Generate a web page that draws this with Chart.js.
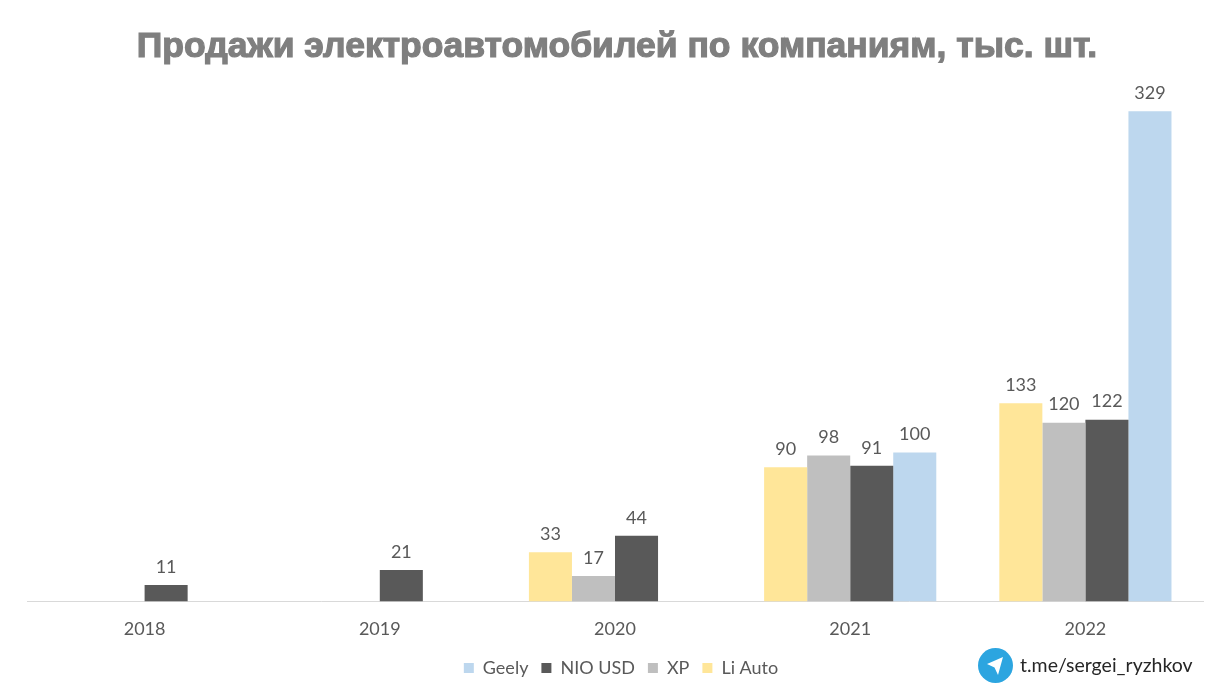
<!DOCTYPE html>
<html>
<head>
<meta charset="utf-8">
<title>Продажи электроавтомобилей</title>
<script src="https://cdn.jsdelivr.net/npm/chart.js@4"></script>
<style>
  html, body { margin: 0; padding: 0; background: #fff; }
  #wrap { position: relative; width: 1225px; height: 687px; overflow: hidden; }
  #chart { position: absolute; left: 0; top: 0; }
  #tg { position: absolute; left: 978px; top: 648px; display: flex; align-items: center; }
  #tg span { font: 19.5px Lato, sans-serif; color: #262626; margin-left: 7px; position: relative; top: -1px; }
</style>
</head>
<body>
<div id="wrap">
  <canvas id="chart" width="1225" height="687"></canvas>
  <div id="tg">
    <svg width="35" height="35" viewBox="0 0 35 35">
      <circle cx="17.5" cy="17.5" r="17.5" fill="#2ca5e0"/>
      <path d="M9 16 L25 9 L20 27 L16.5 19.5 Z" fill="#fff"/>
    </svg>
    <span>t.me/sergei_ryzhkov</span>
  </div>
</div>
<script>
const years = ['2018', '2019', '2020', '2021', '2022'];
const liAuto = [null, null, 33, 90, 133];
const xp = [null, null, 17, 98, 120];
const nio = [11, 21, 44, 91, 122];
const geely = [null, null, null, 100, 329];
const titleText = 'Продажи электроавтомобилей по компаниям, тыс. шт.';
const titleFont = '"Liberation Sans", Arial, sans-serif';
const titleSize = 35.5;

const valueLabels = {
  id: 'valueLabels',
  afterLayout(chart) {
    // legend and title sit a bit right of centre in the original
    chart.legend.left += 6;
    chart.legend.right += 6;
    chart.titleBlock.left += 4;
  },
  afterDatasetsDraw(chart) {
    const ctx = chart.ctx;
    ctx.save();
    ctx.font = '18px Lato, sans-serif';
    ctx.fillStyle = '#595959';
    ctx.textAlign = 'center';
    ctx.textBaseline = 'middle';
    chart.data.datasets.forEach((ds, i) => {
      chart.getDatasetMeta(i).data.forEach((bar, j) => {
        if (ds.data[j] == null) return;
        ctx.fillText(String(ds.data[j]), bar.x, bar.y - 18);
      });
    });
    ctx.restore();
  },
  afterDraw(chart) {
    // title in the original is heavier than plain bold
    const t = chart.titleBlock;
    const ctx = chart.ctx;
    ctx.save();
    ctx.font = 'bold ' + titleSize + 'px ' + titleFont;
    ctx.strokeStyle = '#7f7f7f';
    ctx.lineWidth = 1.2;
    ctx.textAlign = 'center';
    ctx.textBaseline = 'middle';
    ctx.strokeText(titleText, (t.left + t.right) / 2, t.top + 26 + titleSize * 0.6);
    ctx.restore();
  }
};

new Chart(document.getElementById('chart'), {
  type: 'bar',
  data: {
    labels: years,
    datasets: [
      { label: 'Li Auto', data: liAuto, backgroundColor: '#ffe699' },
      { label: 'XP', data: xp, backgroundColor: '#bfbfbf' },
      { label: 'NIO USD', data: nio, backgroundColor: '#595959' },
      { label: 'Geely', data: geely, backgroundColor: '#bdd7ee' }
    ]
  },
  options: {
    responsive: false,
    animation: false,
    layout: { padding: { left: 27, right: 22, top: 0, bottom: 0 } },
    datasets: { bar: { categoryPercentage: 0.732, barPercentage: 1 } },
    scales: {
      x: {
        grid: { display: false, drawTicks: false },
        border: { color: '#d9d9d9', width: 1 },
        ticks: { color: '#595959', font: { family: 'Lato, sans-serif', size: 18 }, padding: 17 },
        afterFit(scale) { scale.height -= 11; }
      },
      y: { display: false, min: 0, max: 352 }
    },
    plugins: {
      title: {
        display: true,
        text: titleText,
        color: '#7f7f7f',
        font: { family: titleFont, size: titleSize, weight: 'bold' },
        padding: { top: 26, bottom: 8.4 }
      },
      legend: {
        position: 'bottom',
        reverse: true,
        labels: {
          boxWidth: 10,
          boxHeight: 10,
          padding: 13,
          color: '#595959',
          font: { family: 'Lato, sans-serif', size: 18 }
        }
      },
      tooltip: { enabled: false }
    }
  },
  plugins: [valueLabels]
});
</script>
</body>
</html>
